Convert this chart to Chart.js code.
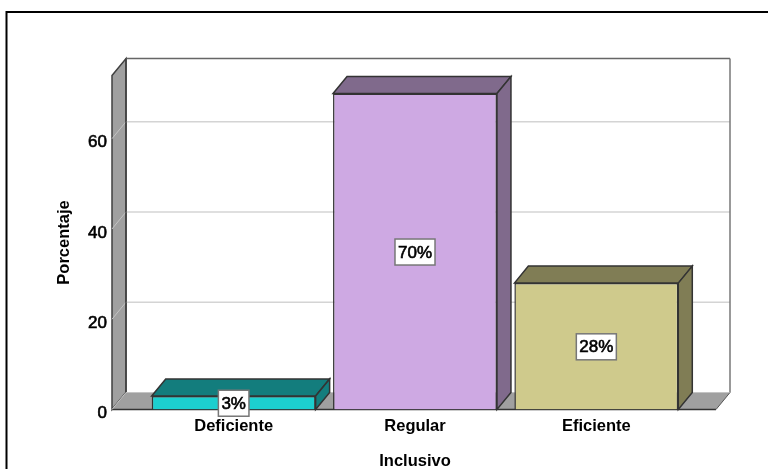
<!DOCTYPE html>
<html>
<head>
<meta charset="utf-8">
<title>Inclusivo</title>
<script src="https://cdn.jsdelivr.net/npm/chart.js@4"></script>
<style>
    html, body { margin: 0; padding: 0; background: #fff; overflow: hidden; }
    canvas { display: block; }
</style>
</head>
<body>
<canvas id="grafico" width="768" height="469"></canvas>
<script>
const categorias = ['Deficiente', 'Regular', 'Eficiente'];
const porcentajes = [3, 70, 28];
const marcasY = [0, 20, 40, 60];

const coloresFrente = ['#1ccfcf', '#cea9e3', '#cfca8c'];
const coloresSombra = ['#137d7d', '#806a8c', '#807d55'];

const FUENTE = 'Arial, "Liberation Sans", sans-serif';
const PROF_X = 14;       // profundidad del efecto 3D
const PROF_Y = 17;
const MARGEN_PARED = 31; // la pared sobresale de la zona de categorias

function poligono(ctx, puntos, relleno, trazo, grosor) {
    ctx.beginPath();
    puntos.forEach((p, i) => i ? ctx.lineTo(p[0], p[1]) : ctx.moveTo(p[0], p[1]));
    ctx.closePath();
    ctx.fillStyle = relleno;
    ctx.fill();
    if (trazo) {
        ctx.strokeStyle = trazo;
        ctx.lineWidth = grosor;
        ctx.stroke();
    }
}

function linea(ctx, x1, y1, x2, y2, color, grosor) {
    ctx.beginPath();
    ctx.moveTo(x1, y1);
    ctx.lineTo(x2, y2);
    ctx.strokeStyle = color;
    ctx.lineWidth = grosor;
    ctx.stroke();
}

// texto normal con un trazo fino para que quede algo mas grueso
function textoMedio(ctx, texto, x, y) {
    ctx.lineWidth = 0.6;
    ctx.strokeStyle = '#000';
    ctx.fillStyle = '#000';
    ctx.fillText(texto, x, y);
    ctx.strokeText(texto, x, y);
}

const caja3d = {
    id: 'caja3d',
    beforeDraw(chart) {
        // marco exterior, se corta por la derecha y por abajo
        const ctx = chart.ctx;
        ctx.save();
        ctx.strokeStyle = '#000';
        ctx.lineWidth = 2;
        ctx.strokeRect(6.5, 12, 800, 500);
        ctx.restore();
    },
    beforeDatasetsDraw(chart) {
        const ctx = chart.ctx;
        const area = chart.chartArea;
        const y = chart.scales.y;
        const izq = area.left - MARGEN_PARED;
        const der = area.right + MARGEN_PARED - 2;
        const arr = area.top;
        const aba = area.bottom;
        ctx.save();

        // pared lateral y suelo
        poligono(ctx, [[izq, arr], [izq + PROF_X, arr - PROF_Y], [izq + PROF_X, aba - PROF_Y], [izq, aba]], '#a0a0a0', '#404040', 1.5);
        poligono(ctx, [[izq, aba], [der, aba], [der + PROF_X, aba - PROF_Y], [izq + PROF_X, aba - PROF_Y]], '#a0a0a0');

        // lineas de cuadricula sobre pared lateral y fondo
        marcasY.forEach(v => {
            if (v === 0) return;
            const py = y.getPixelForValue(v);
            linea(ctx, izq, py, izq + PROF_X, py - PROF_Y, '#c4c4c4', 1);
            linea(ctx, izq + PROF_X, py - PROF_Y, der + PROF_X, py - PROF_Y, '#d4d4d4', 1.5);
        });

        // fondo
        linea(ctx, izq + PROF_X, arr - PROF_Y, der + PROF_X, arr - PROF_Y, '#666', 1.5);
        linea(ctx, izq + PROF_X, arr - PROF_Y, izq + PROF_X, aba - PROF_Y, '#404040', 1.5);
        linea(ctx, der + PROF_X, arr - PROF_Y, der + PROF_X, aba - PROF_Y, '#777', 1.5);
        linea(ctx, izq, aba, der, aba, '#333', 1.5);
        linea(ctx, izq + PROF_X, aba - PROF_Y, der + PROF_X, aba - PROF_Y, '#c4c4c4', 1);
        linea(ctx, izq, aba, izq + PROF_X, aba - PROF_Y, '#c4c4c4', 1);
        linea(ctx, der, aba, der + PROF_X, aba - PROF_Y, '#555', 1);

        // cara superior y lateral de cada barra
        chart.getDatasetMeta(0).data.forEach((barra, i) => {
            const x1 = barra.x - barra.width / 2;
            const x2 = barra.x + barra.width / 2;
            const t = barra.y;
            const b = barra.base;
            poligono(ctx, [[x1, t], [x1 + PROF_X, t - PROF_Y], [x2 + PROF_X, t - PROF_Y], [x2, t]], coloresSombra[i], '#333', 1.5);
            poligono(ctx, [[x2, t], [x2 + PROF_X, t - PROF_Y], [x2 + PROF_X, b - PROF_Y], [x2, b]], coloresSombra[i], '#333', 1.5);
        });
        ctx.restore();
    },
    afterDatasetsDraw(chart) {
        const ctx = chart.ctx;
        const y = chart.scales.y;
        ctx.save();
        ctx.textBaseline = 'middle';
        ctx.font = '17px ' + FUENTE;

        // numeros del eje Y, un poco por debajo de su linea
        ctx.textAlign = 'right';
        marcasY.forEach(v => {
            textoMedio(ctx, String(v), chart.chartArea.left - 36, y.getPixelForValue(v) + 4);
        });

        // etiquetas de porcentaje en el centro de cada barra
        ctx.textAlign = 'center';
        chart.getDatasetMeta(0).data.forEach((barra, i) => {
            const texto = porcentajes[i] + '%';
            const ancho = ctx.measureText(texto).width + 6;
            const cy = (barra.y + barra.base) / 2 + 0.5;
            ctx.fillStyle = '#fff';
            ctx.fillRect(barra.x - ancho / 2, cy - 13, ancho, 26);
            ctx.strokeStyle = '#777';
            ctx.lineWidth = 1.5;
            ctx.strokeRect(barra.x - ancho / 2, cy - 13, ancho, 26);
            textoMedio(ctx, texto, barra.x, cy + 1);
        });
        ctx.restore();
    }
};

new Chart(document.getElementById('grafico'), {
    type: 'bar',
    plugins: [caja3d],
    data: {
        labels: categorias,
        datasets: [{
            data: porcentajes,
            backgroundColor: coloresFrente,
            borderColor: '#333',
            borderWidth: 1.5,
            barPercentage: 0.904,
            categoryPercentage: 1
        }]
    },
    options: {
        responsive: false,
        animation: false,
        layout: { padding: { left: 0, right: 81, top: 75.5, bottom: 0 } },
        plugins: { legend: { display: false }, tooltip: { enabled: false } },
        scales: {
            x: {
                grid: { display: false },
                border: { display: false },
                afterFit: s => { s.height = 59.5; },
                ticks: {
                    color: '#000',
                    padding: -1,
                    maxRotation: 0,
                    font: { family: FUENTE, size: 16.5, weight: 'bold' }
                },
                title: {
                    display: true,
                    text: 'Inclusivo',
                    color: '#000',
                    padding: { top: 0, bottom: -2 },
                    font: { family: FUENTE, size: 16.5, weight: 'bold' }
                }
            },
            y: {
                min: 0,
                max: 74,
                grid: { display: false },
                border: { display: false },
                afterFit: s => { s.width = 143; },
                ticks: { display: false, stepSize: 20, includeBounds: false },
                title: {
                    display: true,
                    text: 'Porcentaje',
                    color: '#000',
                    padding: { top: 55, bottom: 0 },
                    font: { family: FUENTE, size: 16.5, weight: 'bold' }
                }
            }
        }
    }
});
</script>
</body>
</html>
